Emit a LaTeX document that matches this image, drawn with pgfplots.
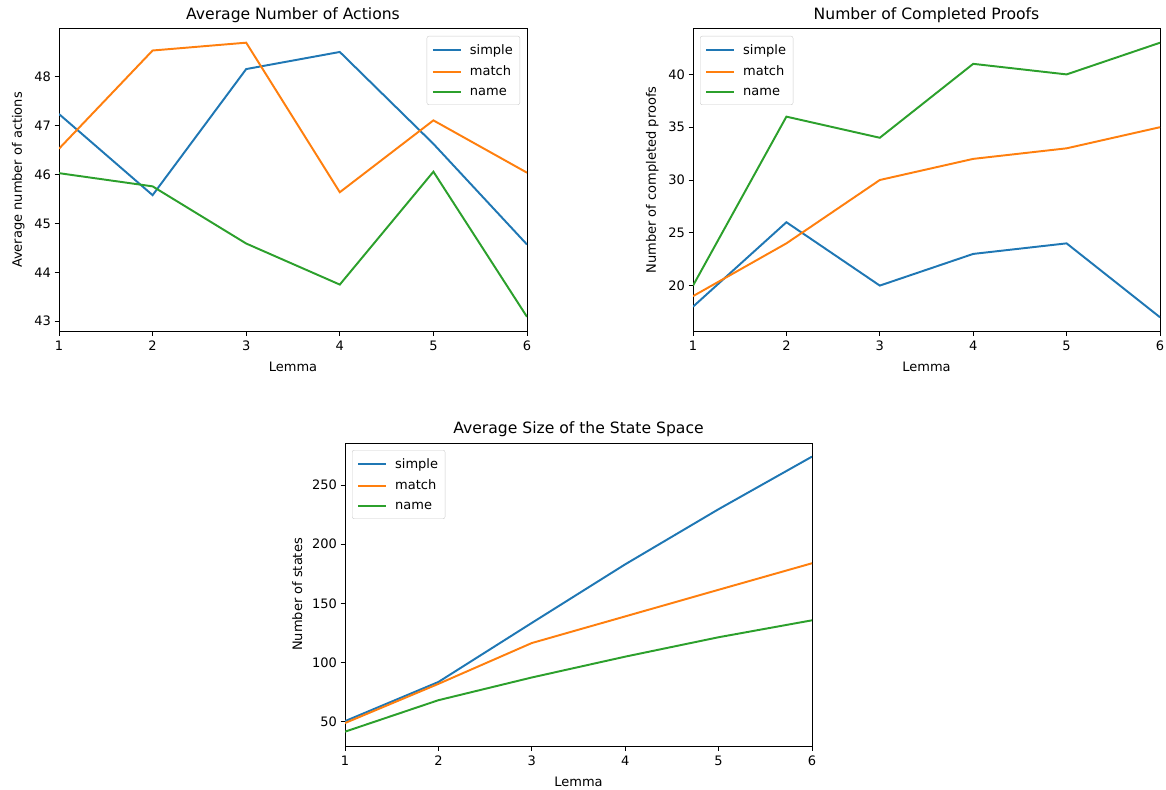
\documentclass[border=0pt]{standalone}
\usepackage{fontspec}
\setmainfont{DejaVu Sans}
\usepackage{pgfplots}
\pgfplotsset{compat=1.18}
\definecolor{mplblue}{HTML}{1F77B4}
\definecolor{mplorange}{HTML}{FF7F0E}
\definecolor{mplgreen}{HTML}{2CA02C}
\pgfplotsset{
  legend image code/.code={\draw[#1, line width=1.95pt] (0pt,0pt) -- (28pt,0pt);},
  mpl/.style={
    scale only axis,
    xmin=1, xmax=6, xtick={1,2,3,4,5,6},
    tick align=outside, tick pos=left,
    major tick length=4.5pt,
    every tick/.style={black, line width=1pt},
    axis line style={line width=1pt, black},
    /pgf/number format/assume math mode=true,
    tick label style={font=\fontsize{13}{15}\selectfont},
    xticklabel style={yshift=-2pt},
    label style={font=\fontsize{13}{15}\selectfont},
    xlabel style={yshift=-4pt},
    ylabel style={yshift=3pt},
    title style={font=\fontsize{15.6}{18}\selectfont, yshift=-3pt},
    xlabel=Lemma,
    every axis plot/.append style={line width=1.95pt, no markers},
    legend cell align=left,
    legend style={font=\fontsize{13}{15}\selectfont, draw=black!20, rounded corners=2pt,
      fill=white, fill opacity=0.8, text opacity=1, draw opacity=1,
      row sep=6.5pt, inner xsep=5pt, inner ysep=6pt,
      /tikz/every odd column/.append style={column sep=6pt}},
  },
}
\begin{document}
\begin{tikzpicture}
\useasboundingbox (0pt,0pt) rectangle (1166pt,-789pt);
\begin{axis}[mpl, at={(59pt,-29pt)}, anchor=north west, width=468pt, height=302pt,
  title={Average Number of Actions}, ylabel={Average number of actions},
  ymin=42.80, ymax=48.98, ytick={43,44,45,46,47,48},
  legend style={at={(1,1)}, anchor=north east, xshift=-7pt, yshift=-7pt}]
\addplot[mplblue] coordinates {(1,47.24) (2,45.58) (3,48.16) (4,48.51) (5,46.63) (6,44.57)};
\addplot[mplorange] coordinates {(1,46.53) (2,48.54) (3,48.70) (4,45.64) (5,47.11) (6,46.04)};
\addplot[mplgreen] coordinates {(1,46.03) (2,45.76) (3,44.59) (4,43.75) (5,46.06) (6,43.09)};
\legend{simple,match,name}
\end{axis}
\begin{axis}[mpl, at={(693pt,-29pt)}, anchor=north west, width=467pt, height=302pt,
  title={Number of Completed Proofs}, ylabel={Number of completed proofs},
  ymin=15.7, ymax=44.3, ytick={20,25,30,35,40},
  legend style={at={(0,1)}, anchor=north west, xshift=7pt, yshift=-7pt}]
\addplot[mplblue] coordinates {(1,18) (2,26) (3,20) (4,23) (5,24) (6,17)};
\addplot[mplorange] coordinates {(1,19) (2,24) (3,30) (4,32) (5,33) (6,35)};
\addplot[mplgreen] coordinates {(1,20) (2,36) (3,34) (4,41) (5,40) (6,43)};
\legend{simple,match,name}
\end{axis}
\begin{axis}[mpl, at={(345pt,-443pt)}, anchor=north west, width=467pt, height=303pt,
  title={Average Size of the State Space}, ylabel={Number of states},
  ymin=29.5, ymax=285.5, ytick={50,100,150,200,250},
  legend style={at={(0,1)}, anchor=north west, xshift=7pt, yshift=-7pt}]
\addplot[mplblue] coordinates {(1,50.5) (2,83.6) (3,133.5) (4,183) (5,229.6) (6,274)};
\addplot[mplorange] coordinates {(1,48.9) (2,82) (3,116.5) (4,139) (5,161.5) (6,183.9)};
\addplot[mplgreen] coordinates {(1,41.6) (2,68.2) (3,87.4) (4,105) (5,121.4) (6,135.7)};
\legend{simple,match,name}
\end{axis}
\end{tikzpicture}
\end{document}
